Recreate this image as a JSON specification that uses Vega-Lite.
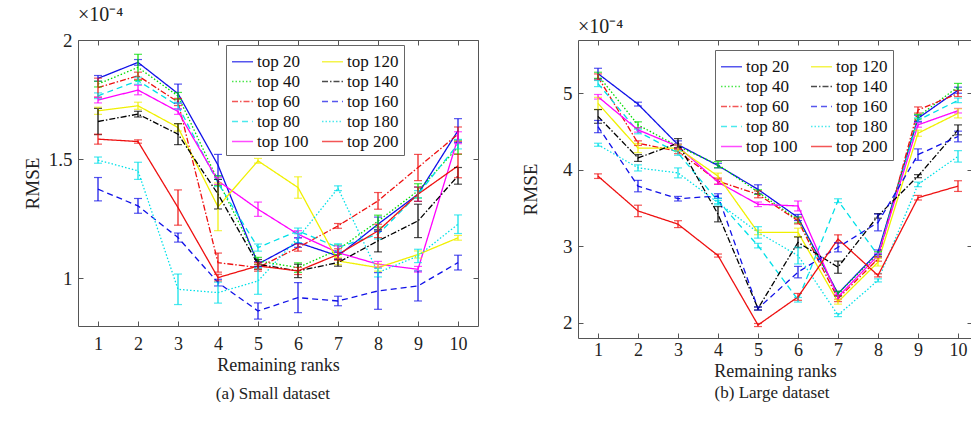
{
  "$schema": "https://vega.github.io/schema/vega-lite/v6.json",
  "padding": {"left": 22, "top": 4, "right": 0, "bottom": 0},
  "background": "white",
  "config": {
    "font": "Liberation Serif",
    "view": {"stroke": "#555", "strokeWidth": 1},
    "axis": {"grid": false, "domain": false, "tickColor": "#555", "tickSize": -5, "labelFont": "Liberation Serif", "labelFontSize": 19, "labelColor": "#222", "titleFont": "Liberation Serif", "titleFontSize": 19, "titleFontWeight": "normal", "titleColor": "#222", "labelPadding": 11},
    "legend": {"labelFont": "Liberation Serif", "labelFontSize": 17, "labelColor": "#111"},
    "title": {"font": "Liberation Serif", "fontWeight": "normal", "color": "#222"}
  },
  "datasets": {
    "small": [
      {"r":1,"s":"top 20","v":1.839,"e":0.012},{"r":2,"s":"top 20","v":1.906,"e":0.012},{"r":3,"s":"top 20","v":1.775,"e":0.04},{"r":4,"s":"top 20","v":1.475,"e":0.045},{"r":5,"s":"top 20","v":1.06,"e":0.01},{"r":6,"s":"top 20","v":1.15,"e":0.02},{"r":7,"s":"top 20","v":1.094,"e":0.015},{"r":8,"s":"top 20","v":1.227,"e":0.03},{"r":9,"s":"top 20","v":1.353,"e":0.03},{"r":10,"s":"top 20","v":1.62,"e":0.05},
      {"r":1,"s":"top 40","v":1.815,"e":0.012},{"r":2,"s":"top 40","v":1.885,"e":0.055},{"r":3,"s":"top 40","v":1.765,"e":0.015},{"r":4,"s":"top 40","v":1.41,"e":0.02},{"r":5,"s":"top 40","v":1.073,"e":0.015},{"r":6,"s":"top 40","v":1.045,"e":0.02},{"r":7,"s":"top 40","v":1.12,"e":0.02},{"r":8,"s":"top 40","v":1.24,"e":0.025},{"r":9,"s":"top 40","v":1.367,"e":0.03},{"r":10,"s":"top 40","v":1.55,"e":0.03},
      {"r":1,"s":"top 60","v":1.80,"e":0.04},{"r":2,"s":"top 60","v":1.85,"e":0.015},{"r":3,"s":"top 60","v":1.74,"e":0.015},{"r":4,"s":"top 60","v":1.066,"e":0.04},{"r":5,"s":"top 60","v":1.045,"e":0.015},{"r":6,"s":"top 60","v":1.129,"e":0.015},{"r":7,"s":"top 60","v":1.22,"e":0.01},{"r":8,"s":"top 60","v":1.325,"e":0.035},{"r":9,"s":"top 60","v":1.465,"e":0.055},{"r":10,"s":"top 60","v":1.605,"e":0.03},
      {"r":1,"s":"top 80","v":1.766,"e":0.012},{"r":2,"s":"top 80","v":1.829,"e":0.015},{"r":3,"s":"top 80","v":1.724,"e":0.015},{"r":4,"s":"top 80","v":1.40,"e":0.015},{"r":5,"s":"top 80","v":1.129,"e":0.015},{"r":6,"s":"top 80","v":1.199,"e":0.012},{"r":7,"s":"top 80","v":1.13,"e":0.015},{"r":8,"s":"top 80","v":1.185,"e":0.02},{"r":9,"s":"top 80","v":1.353,"e":0.015},{"r":10,"s":"top 80","v":1.563,"e":0.02},
      {"r":1,"s":"top 100","v":1.748,"e":0.012},{"r":2,"s":"top 100","v":1.79,"e":0.02},{"r":3,"s":"top 100","v":1.70,"e":0.012},{"r":4,"s":"top 100","v":1.409,"e":0.015},{"r":5,"s":"top 100","v":1.29,"e":0.03},{"r":6,"s":"top 100","v":1.185,"e":0.015},{"r":7,"s":"top 100","v":1.108,"e":0.028},{"r":8,"s":"top 100","v":1.059,"e":0.012},{"r":9,"s":"top 100","v":1.038,"e":0.012},{"r":10,"s":"top 100","v":1.59,"e":0.025},
      {"r":1,"s":"top 120","v":1.703,"e":0.015},{"r":2,"s":"top 120","v":1.724,"e":0.015},{"r":3,"s":"top 120","v":1.633,"e":0.015},{"r":4,"s":"top 120","v":1.30,"e":0.1},{"r":5,"s":"top 120","v":1.493,"e":0.01},{"r":6,"s":"top 120","v":1.381,"e":0.045},{"r":7,"s":"top 120","v":1.073,"e":0.015},{"r":8,"s":"top 120","v":1.045,"e":0.015},{"r":9,"s":"top 120","v":1.10,"e":0.015},{"r":10,"s":"top 120","v":1.17,"e":0.01},
      {"r":1,"s":"top 140","v":1.658,"e":0.055},{"r":2,"s":"top 140","v":1.689,"e":0.012},{"r":3,"s":"top 140","v":1.605,"e":0.044},{"r":4,"s":"top 140","v":1.353,"e":0.062},{"r":5,"s":"top 140","v":1.059,"e":0.02},{"r":6,"s":"top 140","v":1.031,"e":0.028},{"r":7,"s":"top 140","v":1.066,"e":0.015},{"r":8,"s":"top 140","v":1.157,"e":0.046},{"r":9,"s":"top 140","v":1.241,"e":0.07},{"r":10,"s":"top 140","v":1.43,"e":0.035},
      {"r":1,"s":"top 160","v":1.374,"e":0.049},{"r":2,"s":"top 160","v":1.304,"e":0.031},{"r":3,"s":"top 160","v":1.171,"e":0.019},{"r":4,"s":"top 160","v":0.982,"e":0.014},{"r":5,"s":"top 160","v":0.863,"e":0.034},{"r":6,"s":"top 160","v":0.919,"e":0.063},{"r":7,"s":"top 160","v":0.905,"e":0.02},{"r":8,"s":"top 160","v":0.947,"e":0.077},{"r":9,"s":"top 160","v":0.968,"e":0.063},{"r":10,"s":"top 160","v":1.066,"e":0.031},
      {"r":1,"s":"top 180","v":1.496,"e":0.013},{"r":2,"s":"top 180","v":1.451,"e":0.036},{"r":3,"s":"top 180","v":0.954,"e":0.064},{"r":4,"s":"top 180","v":0.94,"e":0.044},{"r":5,"s":"top 180","v":0.989,"e":0.056},{"r":6,"s":"top 180","v":1.17,"e":0.02},{"r":7,"s":"top 180","v":1.378,"e":0.01},{"r":8,"s":"top 180","v":1.024,"e":0.018},{"r":9,"s":"top 180","v":1.094,"e":0.028},{"r":10,"s":"top 180","v":1.227,"e":0.039},
      {"r":1,"s":"top 200","v":1.584,"e":0.021},{"r":2,"s":"top 200","v":1.574,"e":0.007},{"r":3,"s":"top 200","v":1.297,"e":0.074},{"r":4,"s":"top 200","v":1.003,"e":0.014},{"r":5,"s":"top 200","v":1.052,"e":0.015},{"r":6,"s":"top 200","v":1.031,"e":0.015},{"r":7,"s":"top 200","v":1.10,"e":0.024},{"r":8,"s":"top 200","v":1.199,"e":0.028},{"r":9,"s":"top 200","v":1.353,"e":0.03},{"r":10,"s":"top 200","v":1.472,"e":0.05}
    ],
    "large": [
      {"r":1,"s":"top 20","v":5.26,"e":0.07},{"r":2,"s":"top 20","v":4.861,"e":0.025},{"r":3,"s":"top 20","v":4.33,"e":0.05},{"r":4,"s":"top 20","v":4.056,"e":0.03},{"r":5,"s":"top 20","v":3.745,"e":0.06},{"r":6,"s":"top 20","v":3.377,"e":0.04},{"r":7,"s":"top 20","v":2.381,"e":0.03},{"r":8,"s":"top 20","v":2.922,"e":0.03},{"r":9,"s":"top 20","v":4.675,"e":0.04},{"r":10,"s":"top 20","v":5.043,"e":0.04},
      {"r":1,"s":"top 40","v":5.238,"e":0.04},{"r":2,"s":"top 40","v":4.589,"e":0.04},{"r":3,"s":"top 40","v":4.307,"e":0.03},{"r":4,"s":"top 40","v":4.069,"e":0.04},{"r":5,"s":"top 40","v":3.71,"e":0.03},{"r":6,"s":"top 40","v":3.346,"e":0.04},{"r":7,"s":"top 40","v":2.381,"e":0.03},{"r":8,"s":"top 40","v":2.9,"e":0.03},{"r":9,"s":"top 40","v":4.697,"e":0.03},{"r":10,"s":"top 40","v":5.087,"e":0.045},
      {"r":1,"s":"top 60","v":5.216,"e":0.04},{"r":2,"s":"top 60","v":4.35,"e":0.03},{"r":3,"s":"top 60","v":4.242,"e":0.03},{"r":4,"s":"top 60","v":3.853,"e":0.04},{"r":5,"s":"top 60","v":3.68,"e":0.045},{"r":6,"s":"top 60","v":3.333,"e":0.04},{"r":7,"s":"top 60","v":2.316,"e":0.04},{"r":8,"s":"top 60","v":2.835,"e":0.03},{"r":9,"s":"top 60","v":4.784,"e":0.04},{"r":10,"s":"top 60","v":5.0,"e":0.04},
      {"r":1,"s":"top 80","v":5.13,"e":0.04},{"r":2,"s":"top 80","v":4.502,"e":0.03},{"r":3,"s":"top 80","v":4.221,"e":0.03},{"r":4,"s":"top 80","v":3.593,"e":0.035},{"r":5,"s":"top 80","v":3.009,"e":0.03},{"r":6,"s":"top 80","v":2.30,"e":0.03},{"r":7,"s":"top 80","v":3.597,"e":0.025},{"r":8,"s":"top 80","v":2.883,"e":0.03},{"r":9,"s":"top 80","v":4.65,"e":0.03},{"r":10,"s":"top 80","v":4.91,"e":0.03},
      {"r":1,"s":"top 100","v":4.957,"e":0.03},{"r":2,"s":"top 100","v":4.524,"e":0.03},{"r":3,"s":"top 100","v":4.307,"e":0.03},{"r":4,"s":"top 100","v":3.84,"e":0.03},{"r":5,"s":"top 100","v":3.55,"e":0.03},{"r":6,"s":"top 100","v":3.528,"e":0.065},{"r":7,"s":"top 100","v":2.338,"e":0.03},{"r":8,"s":"top 100","v":2.879,"e":0.03},{"r":9,"s":"top 100","v":4.589,"e":0.03},{"r":10,"s":"top 100","v":4.775,"e":0.03},
      {"r":1,"s":"top 120","v":4.87,"e":0.08},{"r":2,"s":"top 120","v":4.286,"e":0.06},{"r":3,"s":"top 120","v":4.286,"e":0.04},{"r":4,"s":"top 120","v":3.918,"e":0.04},{"r":5,"s":"top 120","v":3.182,"e":0.03},{"r":6,"s":"top 120","v":3.182,"e":0.055},{"r":7,"s":"top 120","v":2.273,"e":0.03},{"r":8,"s":"top 120","v":2.792,"e":0.05},{"r":9,"s":"top 120","v":4.48,"e":0.04},{"r":10,"s":"top 120","v":4.74,"e":0.06},
      {"r":1,"s":"top 140","v":4.70,"e":0.09},{"r":2,"s":"top 140","v":4.156,"e":0.045},{"r":3,"s":"top 140","v":4.35,"e":0.06},{"r":4,"s":"top 140","v":3.42,"e":0.1},{"r":5,"s":"top 140","v":2.186,"e":0.02},{"r":6,"s":"top 140","v":3.052,"e":0.07},{"r":7,"s":"top 140","v":2.727,"e":0.08},{"r":8,"s":"top 140","v":3.398,"e":0.03},{"r":9,"s":"top 140","v":3.918,"e":0.02},{"r":10,"s":"top 140","v":4.524,"e":0.065},
      {"r":1,"s":"top 160","v":4.567,"e":0.08},{"r":2,"s":"top 160","v":3.788,"e":0.075},{"r":3,"s":"top 160","v":3.623,"e":0.03},{"r":4,"s":"top 160","v":3.658,"e":0.03},{"r":5,"s":"top 160","v":2.186,"e":0.02},{"r":6,"s":"top 160","v":2.662,"e":0.075},{"r":7,"s":"top 160","v":2.987,"e":0.06},{"r":8,"s":"top 160","v":3.312,"e":0.11},{"r":9,"s":"top 160","v":4.2,"e":0.075},{"r":10,"s":"top 160","v":4.437,"e":0.07},
      {"r":1,"s":"top 180","v":4.329,"e":0.02},{"r":2,"s":"top 180","v":4.026,"e":0.04},{"r":3,"s":"top 180","v":3.961,"e":0.065},{"r":4,"s":"top 180","v":3.571,"e":0.03},{"r":5,"s":"top 180","v":3.182,"e":0.075},{"r":6,"s":"top 180","v":2.879,"e":0.11},{"r":7,"s":"top 180","v":2.10,"e":0.02},{"r":8,"s":"top 180","v":2.554,"e":0.02},{"r":9,"s":"top 180","v":3.81,"e":0.03},{"r":10,"s":"top 180","v":4.177,"e":0.075},
      {"r":1,"s":"top 200","v":3.918,"e":0.03},{"r":2,"s":"top 200","v":3.463,"e":0.075},{"r":3,"s":"top 200","v":3.29,"e":0.045},{"r":4,"s":"top 200","v":2.879,"e":0.02},{"r":5,"s":"top 200","v":1.97,"e":0.02},{"r":6,"s":"top 200","v":2.338,"e":0.045},{"r":7,"s":"top 200","v":3.095,"e":0.055},{"r":8,"s":"top 200","v":2.619,"e":0.02},{"r":9,"s":"top 200","v":3.636,"e":0.03},{"r":10,"s":"top 200","v":3.788,"e":0.07}
    ]
  },
  "spacing": 42,
  "resolve": {"scale": {"color": "independent", "strokeDash": "independent"}, "legend": {"color": "independent", "strokeDash": "independent"}},
  "hconcat": [
    {
      "title": {"text": "(a) Small dataset", "orient": "bottom", "anchor": "middle", "dx": 22, "fontSize": 17, "offset": 11},
      "vconcat": [
        {
          "title": {"text": "×10⁻⁴", "anchor": "start", "frame": "group", "fontSize": 20, "offset": 6},
          "width": 400, "height": 286,
          "data": {"name": "small"},
          "resolve": {"axis": {"x": "independent", "y": "independent"}},
          "layer": [
            {
              "mark": {"type": "line", "strokeWidth": 1.3},
              "encoding": {
                "x": {"field": "r", "type": "quantitative", "scale": {"domain": [0.5, 10.5], "nice": false, "zero": false}, "axis": {"values": [1,2,3,4,5,6,7,8,9,10], "title": "Remaining ranks", "titlePadding": 3, "labelFontSize": 18, "titleFontSize": 18, "labelPadding": 14}},
                "y": {"field": "v", "type": "quantitative", "scale": {"domain": [0.8, 2.0], "nice": false, "zero": false}, "axis": {"values": [1, 1.5, 2], "format": "~g", "title": "RMSE", "titlePadding": 6}},
                "color": {"field": "s", "type": "nominal",
                  "scale": {"domain": ["top 20","top 40","top 60","top 80","top 100","top 120","top 140","top 160","top 180","top 200"], "range": ["#1010e8","#00dd00","#ee1010","#00e0e8","#ff00ff","#f0f000","#000000","#1010e8","#00e0e8","#ee1010"]},
                  "legend": {"orient": "none", "legendX": 148, "legendY": 5, "columns": 2, "title": null, "symbolType": "stroke", "symbolSize": 441, "symbolStrokeWidth": 1.3, "labelFontSize": 17, "labelFont": "Liberation Serif", "labelColor": "#111", "strokeColor": "#666", "fillColor": "white", "padding": 5, "rowPadding": 0, "columnPadding": 10, "labelOffset": 3}},
                "strokeDash": {"field": "s", "type": "nominal",
                  "scale": {"domain": ["top 20","top 40","top 60","top 80","top 100","top 120","top 140","top 160","top 180","top 200"], "range": [[1,0],[1.5,2],[6,2,1.5,2],[6,4],[1,0],[1,0],[6,2,1.5,2],[6,4],[1.5,2],[1,0]]},
                  "legend": {"orient": "none", "legendX": 148, "legendY": 5, "columns": 2, "title": null, "symbolType": "stroke", "symbolSize": 441, "symbolStrokeWidth": 1.3, "labelFontSize": 17, "labelFont": "Liberation Serif", "labelColor": "#111", "strokeColor": "#666", "fillColor": "white", "padding": 5, "rowPadding": 0, "columnPadding": 10, "labelOffset": 3}}
              }
            },
            {
              "mark": {"type": "errorbar", "ticks": {"size": 8}, "thickness": 1.2},
              "encoding": {
                "x": {"field": "r", "type": "quantitative", "axis": {"orient": "top", "labels": false, "title": null, "values": [1,2,3,4,5,6,7,8,9,10]}},
                "y": {"field": "v", "type": "quantitative", "axis": {"orient": "right", "labels": false, "title": null, "values": [1, 1.5, 2]}},
                "yError": {"field": "e"},
                "color": {"field": "s", "type": "nominal"}
              }
            }
          ]
        }
      ]
    },
    {
      "title": {"text": "(b) Large dataset", "orient": "bottom", "anchor": "middle", "dx": 25, "fontSize": 17, "offset": 4},
      "vconcat": [
        {
          "title": {"text": "×10⁻⁴", "anchor": "start", "frame": "group", "fontSize": 20, "offset": 3},
          "width": 394, "height": 298,
          "data": {"name": "large"},
          "resolve": {"axis": {"x": "independent", "y": "independent"}},
          "layer": [
            {
              "mark": {"type": "line", "strokeWidth": 1.3},
              "encoding": {
                "x": {"field": "r", "type": "quantitative", "scale": {"domain": [0.5, 10.35], "nice": false, "zero": false}, "axis": {"values": [1,2,3,4,5,6,7,8,9,10], "title": "Remaining ranks", "titlePadding": 3, "labelFontSize": 18, "titleFontSize": 18, "labelPadding": 8}},
                "y": {"field": "v", "type": "quantitative", "scale": {"domain": [1.8, 5.7], "nice": false, "zero": false}, "axis": {"values": [2, 3, 4, 5], "format": "~g", "title": "RMSE", "titlePadding": 22}},
                "color": {"field": "s", "type": "nominal",
                  "scale": {"domain": ["top 20","top 40","top 60","top 80","top 100","top 120","top 140","top 160","top 180","top 200"], "range": ["#1010e8","#00dd00","#ee1010","#00e0e8","#ff00ff","#f0f000","#000000","#1010e8","#00e0e8","#ee1010"]},
                  "legend": {"orient": "none", "legendX": 137, "legendY": 10, "columns": 2, "title": null, "symbolType": "stroke", "symbolSize": 441, "symbolStrokeWidth": 1.3, "labelFontSize": 17, "labelFont": "Liberation Serif", "labelColor": "#111", "strokeColor": "#666", "fillColor": "white", "padding": 5, "rowPadding": 0, "columnPadding": 10, "labelOffset": 3}},
                "strokeDash": {"field": "s", "type": "nominal",
                  "scale": {"domain": ["top 20","top 40","top 60","top 80","top 100","top 120","top 140","top 160","top 180","top 200"], "range": [[1,0],[1.5,2],[6,2,1.5,2],[6,4],[1,0],[1,0],[6,2,1.5,2],[6,4],[1.5,2],[1,0]]},
                  "legend": {"orient": "none", "legendX": 137, "legendY": 10, "columns": 2, "title": null, "symbolType": "stroke", "symbolSize": 441, "symbolStrokeWidth": 1.3, "labelFontSize": 17, "labelFont": "Liberation Serif", "labelColor": "#111", "strokeColor": "#666", "fillColor": "white", "padding": 5, "rowPadding": 0, "columnPadding": 10, "labelOffset": 3}}
              }
            },
            {
              "mark": {"type": "errorbar", "ticks": {"size": 8}, "thickness": 1.2},
              "encoding": {
                "x": {"field": "r", "type": "quantitative", "axis": {"orient": "top", "labels": false, "title": null, "values": [1,2,3,4,5,6,7,8,9,10]}},
                "y": {"field": "v", "type": "quantitative", "axis": {"orient": "right", "labels": false, "title": null, "values": [2, 3, 4, 5]}},
                "yError": {"field": "e"},
                "color": {"field": "s", "type": "nominal"}
              }
            }
          ]
        }
      ]
    }
  ]
}
